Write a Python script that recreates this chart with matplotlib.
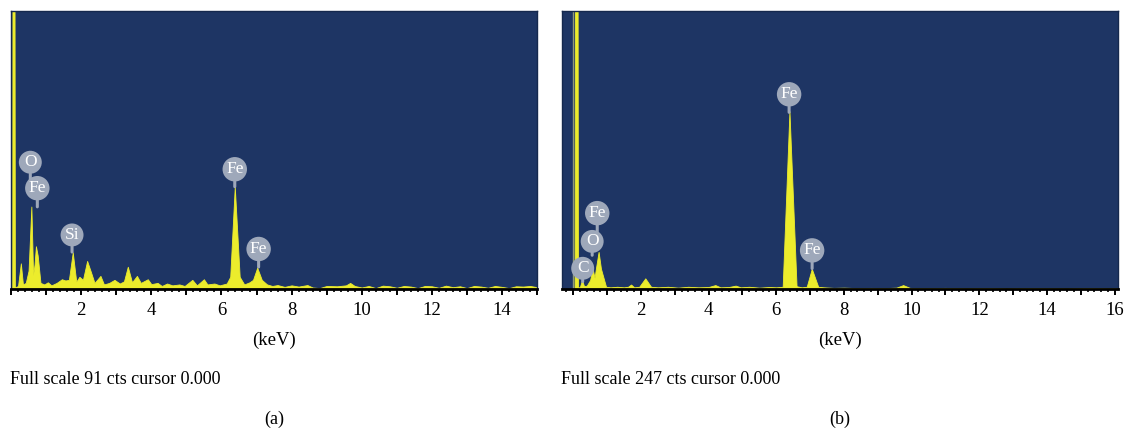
import numpy as np
import matplotlib.pyplot as plt
from matplotlib.ticker import MultipleLocator

plt.rcParams['font.family'] = ['Liberation Serif', 'DejaVu Serif']

# ---- spectrum (a): outline vertices, energy (keV) vs counts ----
kev_a = [0.00, 0.03, 0.04, 0.10, 0.11, 0.20, 0.28, 0.34, 0.42, 0.50, 0.58, 0.63,
         0.67, 0.71, 0.76, 0.84, 0.95, 1.05, 1.15, 1.30, 1.45, 1.55, 1.65, 1.76,
         1.86, 1.95, 2.05, 2.17, 2.28, 2.38, 2.55, 2.65, 2.80, 2.95, 3.10, 3.22,
         3.33, 3.45, 3.59, 3.70, 3.90, 4.00, 4.18, 4.30, 4.45, 4.60, 4.80, 4.95,
         5.17, 5.30, 5.50, 5.60, 5.80, 5.95, 6.15, 6.25, 6.38, 6.52, 6.65, 6.80,
         6.90, 7.02, 7.15, 7.30, 7.45, 7.60, 7.80, 8.00, 8.20, 8.45, 8.60, 8.80,
         9.00, 9.30, 9.55, 9.67, 9.80, 10.0, 10.2, 10.4, 10.6, 10.8, 11.0, 11.2,
         11.4, 11.6, 11.8, 12.0, 12.2, 12.4, 12.6, 12.8, 13.0, 13.2, 13.4, 13.6,
         13.8, 14.0, 14.2, 14.4, 14.6, 14.8, 15.0]
cts_a = [0.0, 0.0, 95.0, 95.0, 0.5, 1.0, 8.4, 1.5, 2.0, 6.0, 27.0, 4.5,
         8.0, 14.0, 11.0, 2.0, 1.5, 2.2, 1.2, 2.0, 3.2, 2.8, 3.0, 12.0,
         2.4, 4.0, 3.0, 9.2, 5.5, 2.0, 4.3, 1.5, 2.0, 3.0, 1.8, 2.5,
         7.3, 2.2, 4.3, 2.0, 3.2, 1.6, 2.0, 1.0, 1.8, 1.2, 1.5, 1.0,
         3.0, 1.2, 3.2, 1.5, 1.8, 1.2, 1.8, 4.0, 33.5, 4.0, 1.5, 2.2,
         3.0, 7.0, 3.0, 1.5, 1.0, 1.3, 0.7, 1.2, 0.8, 1.3, 0.5, 0.3,
         1.0, 0.9, 1.2, 2.0, 1.0, 0.5, 1.0, 0.3, 1.1, 0.9, 0.4, 1.0,
         0.8, 0.3, 1.0, 0.9, 0.4, 1.1, 0.6, 0.9, 0.3, 1.0, 0.8, 0.4,
         1.0, 0.7, 0.3, 0.9, 0.8, 1.0, 0.6]

# ---- spectrum (b) ----
kev_b = [-0.33, 0.04, 0.05, 0.13, 0.14, 0.20, 0.26, 0.32, 0.40, 0.50, 0.57, 0.63,
         0.68, 0.75, 0.82, 0.97, 1.10, 1.30, 1.50, 1.62, 1.71, 1.80, 1.95, 2.13,
         2.30, 2.50, 2.80, 3.10, 3.40, 3.70, 4.00, 4.20, 4.35, 4.60, 4.80, 4.95,
         5.20, 5.50, 5.80, 6.00, 6.19, 6.39, 6.60, 6.75, 6.90, 7.05, 7.24, 7.40,
         7.70, 8.00, 8.40, 8.80, 9.20, 9.55, 9.75, 9.95, 10.4, 11.0, 11.6, 12.2,
         12.8, 13.4, 14.0, 14.6, 15.2, 15.8, 16.1]
cts_b = [0.0, 0.0, 260.0, 260.0, 1.0, 2.0, 8.0, 2.5, 3.0, 8.0, 18.5, 10.0,
         20.0, 33.0, 18.0, 2.0, 1.5, 2.0, 1.5, 2.0, 4.0, 1.5, 2.0, 9.5,
         2.0, 1.5, 2.0, 1.2, 2.0, 1.5, 1.8, 3.5, 1.5, 1.8, 3.0, 1.5,
         2.0, 1.2, 1.8, 1.5, 2.0, 158.0, 2.5, 1.5, 2.0, 18.0, 2.0, 1.5,
         1.0, 1.2, 0.8, 1.0, 0.8, 1.2, 3.5, 1.0, 0.8, 1.0, 0.7, 0.9,
         0.6, 0.8, 0.7, 0.6, 0.8, 0.6, 0.5]

# ---- element markers: name, energy, circle centre (cts), stem foot (cts) ----
lab_a_name = ['O', 'Fe', 'Si', 'Fe', 'Fe']
lab_a_kev = [0.55, 0.75, 1.74, 6.38, 7.06]
lab_a_top = [41.5, 33.0, 17.7, 39.2, 13.1]
lab_a_foot = [35.0, 26.9, 12.1, 33.5, 7.2]

lab_b_name = ['Fe', 'Fe', 'Fe', 'O', 'C']
lab_b_kev = [6.38, 7.06, 0.71, 0.56, 0.28]
lab_b_top = [173.0, 34.3, 67.4, 42.3, 18.4]
lab_b_foot = [157.0, 18.2, 51.0, 30.0, 6.5]

BG = '#1e3564'
YEL = '#ecec2c'
BUBBLE = '#9ea8ba'


def draw_panel(ax, kev, cts, full, xmax, xmin, names, lab_kev, lab_top, lab_foot,
               footer, tag, ticks_max):
    ax.set_facecolor(BG)
    ax.fill_between(kev, 0, cts, color=YEL, lw=0.6, edgecolor=YEL, zorder=2)
    ax.axvline(0.0, color='#8f9a78', lw=1.0, zorder=1)
    ax.set_xlim(xmin, xmax)
    ax.set_ylim(0, full)
    ax.set_yticks([])

    # element bubbles on short stems
    for name, e, top, foot in zip(names, lab_kev, lab_top, lab_foot):
        ax.annotate(name, xy=(e, foot), xytext=(e, top),
                    ha='center', va='center', color='white', fontsize=12.5,
                    bbox=dict(boxstyle='circle,pad=0.2', fc=BUBBLE, ec='none'),
                    arrowprops=dict(arrowstyle='-', color=BUBBLE, lw=2.2,
                                    shrinkA=0, shrinkB=0),
                    zorder=5)

    major = list(range(0, ticks_max + 1))
    ax.set_xticks(major)
    ax.set_xticklabels(['' if (m == 0 or m % 2) else str(m) for m in major],
                       fontsize=13.5)
    ax.xaxis.set_minor_locator(MultipleLocator(0.2))
    ax.tick_params(axis='x', which='major', direction='out', length=4.5, width=1.4,
                   pad=5)
    ax.tick_params(axis='x', which='minor', direction='out', length=2.5, width=1.2)
    for s in ['top', 'right', 'left']:
        ax.spines[s].set_color('#15284d')
        ax.spines[s].set_linewidth(1.0)
    ax.spines['bottom'].set_color('black')
    ax.spines['bottom'].set_linewidth(2.0)

    ax.set_xlabel('(keV)', fontsize=13.5, labelpad=9)
    ax.text(-0.002, -0.325, footer, transform=ax.transAxes, fontsize=13,
            ha='left', va='center')
    ax.text(0.5, -0.468, tag, transform=ax.transAxes, fontsize=13,
            ha='center', va='center')


fig = plt.figure(figsize=(11.25, 4.29), dpi=100)
ax_a = fig.add_axes([0.0098, 0.3263, 0.4676, 0.648])
ax_b = fig.add_axes([0.4996, 0.3263, 0.4942, 0.648])

draw_panel(ax_a, kev_a, cts_a, 91, 15.0, 0.0, lab_a_name, lab_a_kev, lab_a_top,
           lab_a_foot, 'Full scale 91 cts cursor 0.000', '(a)', 15)
draw_panel(ax_b, kev_b, cts_b, 247, 16.1, -0.33, lab_b_name, lab_b_kev, lab_b_top,
           lab_b_foot, 'Full scale 247 cts cursor 0.000', '(b)', 16)

fig.savefig('out.png', dpi=100, facecolor='white')
